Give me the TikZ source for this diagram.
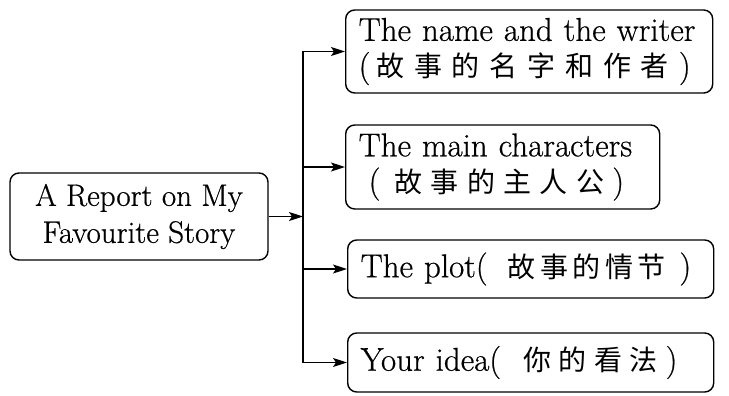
\documentclass[tikz,border=0pt]{standalone}
\usepackage{fontspec}
\setmainfont{Latin Modern Roman}[FakeBold=0.6]
\newfontfamily\cjkfont{Noto Sans CJK SC}
% #1 = letter spacing, #2 = Chinese text
\newcommand\zhtext[2]{{\cjkfont\fontsize{28}{35}\selectfont\addfontfeature{LetterSpace=#1}#2}}
\usetikzlibrary{arrows.meta}
\begin{document}
\begin{tikzpicture}[x=1pt,y=-1pt,
  box/.style={draw, line width=1.4pt, rounded corners=9pt, inner ysep=0pt, anchor=west,
              font=\fontsize{33}{36}\selectfont},
  conn/.style={line width=1.4pt},
  arr/.style={line width=1.4pt, -{Stealth[length=14pt,width=9pt,inset=3pt]}}]
\useasboundingbox (0,0) rectangle (729,396);
\node[box, anchor=center, minimum width=258pt, minimum height=87pt, inner xsep=0pt, align=center,
      font=\fontsize{31}{37}\selectfont]
  (root) at (139,216.5) {A Report on My\\Favourite Story};
\node[box, text width=341pt, inner xsep=13pt, minimum height=83pt, align=left]
  (b1) at (345,51.5) {The name and the writer\\(\hspace{6pt}\zhtext{35}{故事的名字和作者}\hspace{10pt})};
\node[box, text width=288pt, inner xsep=13pt, minimum height=84pt, align=left]
  (b2) at (345,167) {The main characters\\\hspace{10pt}(\hspace{14pt}\zhtext{30}{故事的主人公}\hspace{8pt})};
\node[box, text width=340pt, inner xsep=13pt, minimum height=58pt, align=left]
  (b3) at (347,269) {The plot(\hspace{20pt}\zhtext{16}{故事的情节}\hspace{14pt})};
\node[box, text width=340pt, inner xsep=13pt, minimum height=59pt, align=left]
  (b4) at (347,362.5) {Your idea(\hspace{22pt}\zhtext{27}{你的看法}\hspace{8pt})};
\coordinate (j) at (303,216.5);
\draw[conn] (j |- b1.west) -- (j |- b4.west);
\draw[arr] (root.east) -- (j);
\draw[arr] (j |- b1.west) -- (b1.west);
\draw[arr] (j |- b2.west) -- (b2.west);
\draw[arr] (j |- b3.west) -- (b3.west);
\draw[arr] (j |- b4.west) -- (b4.west);
\end{tikzpicture}
\end{document}
